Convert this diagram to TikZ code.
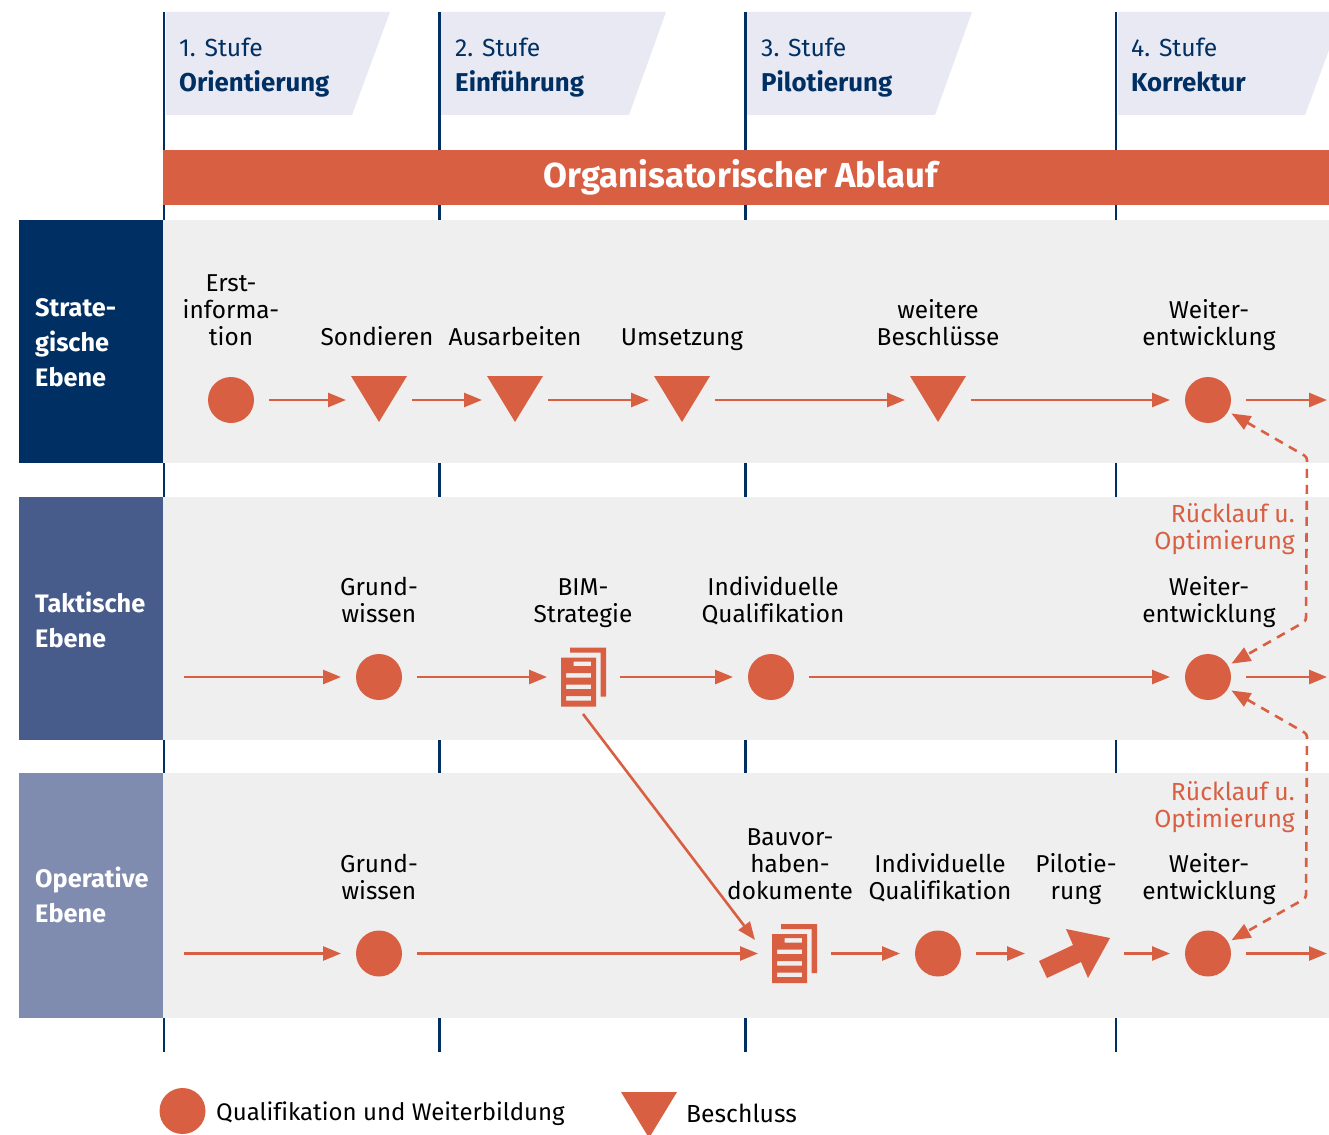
\documentclass[tikz,border=0pt]{standalone}
\usepackage{fontspec}
\setmainfont[Ligatures=CommonOff]{Fira Sans}
\usetikzlibrary{arrows.meta}
\definecolor{navy}{HTML}{003063}
\definecolor{midblue}{HTML}{485C8C}
\definecolor{lightblue}{HTML}{808BB0}
\definecolor{orange}{HTML}{D95F43}
\definecolor{panelgrey}{HTML}{EFEFEF}
\definecolor{headfill}{HTML}{E8E9F2}
\tikzset{
  dot/.style={shape=circle,fill=orange,minimum size=46pt,inner sep=0pt,outer sep=15pt},
  beschluss/.style={shape=rectangle,minimum width=56pt,minimum height=48pt,inner sep=0pt,outer sep=5pt,
    path picture={\fill[orange] (path picture bounding box.north west) -- (path picture bounding box.north east)
      -- ([yshift=2pt]path picture bounding box.south) -- cycle;}},
  docicon/.style={shape=rectangle,minimum width=45pt,minimum height=59pt,inner sep=0pt,outer sep=14pt,
    path picture={\begin{scope}[shift={(path picture bounding box.center)}]
      \fill[orange] (-13.5,-29.5) -- (22.5,-29.5) -- (22.5,19.5) -- (17,19.5) -- (17,-24.5) -- (-13.5,-24.5) -- cycle;
      \fill[orange,even odd rule] (-22.5,-19.5) rectangle (12.5,29.5)
        (-10,-15.5) rectangle (7.5,-11) (-17.5,-4) rectangle (7.5,0.5)
        (-17.5,7.5) rectangle (7.5,12) (-17.5,19) rectangle (7.5,23.5);
    \end{scope}}},
  pilot/.style={shape=rectangle,minimum width=71pt,minimum height=50pt,inner sep=0pt,outer sep=14pt,
    path picture={\begin{scope}[shift={(path picture bounding box.center)}]
      \fill[orange] (-35.5,7.5) -- (-27.5,24.5) -- (6.5,8.5) -- (13.5,24.5) -- (35.5,-15.5) -- (-8.5,-24.5) -- (-1.5,-8.5) -- cycle;
    \end{scope}}},
  flow/.style={draw=orange,line width=2.6pt,-{Triangle[length=18pt,width=14pt]}},
  back/.style={draw=orange,line width=2.6pt,dash pattern=on 9pt off 7pt,rounded corners=3pt,
    {Triangle[length=19pt,width=15pt]}-{Triangle[length=19pt,width=15pt]},shorten <=27pt,shorten >=27pt},
  lbl/.style={anchor=south,align=center,inner sep=0pt,text depth=6pt,font=\fontsize{24.4}{27}\selectfont},
  rueck/.style={anchor=south east,align=right,inner sep=0pt,text depth=6pt,text=orange,font=\fontsize{24.7}{27}\selectfont},
  ebene/.style={anchor=west,align=left,inner sep=0pt,text=white,font=\fontsize{25.3}{35}\selectfont\bfseries},
  stufe/.style={anchor=north west,align=left,inner sep=0pt,text=navy,font=\fontsize{24.7}{35}\selectfont},
  legend/.style={anchor=west,inner sep=0pt,font=\fontsize{24}{27}\selectfont}
}
\newcommand{\stname}[1]{{\fontsize{25.8}{35}\selectfont\bfseries #1}}
\begin{document}
\begin{tikzpicture}[x=1pt,y=-1pt]
  \useasboundingbox (0,0) rectangle (1329,1134);
  % stage lines
  \foreach \lx in {164,439.5,745.5,1116}
    \draw[navy,line width=2.8pt] (\lx,12) -- (\lx,1052);
  % stage heads
  \fill[headfill] (166,12) -- (390,12) -- (352,115) -- (166,115) -- cycle;
  \fill[headfill] (441,12) -- (666,12) -- (629,115) -- (441,115) -- cycle;
  \fill[headfill] (747,12) -- (972,12) -- (935,115) -- (747,115) -- cycle;
  \fill[headfill] (1118,12) -- (1329,12) -- (1329,50) -- (1305,115) -- (1118,115) -- cycle;
  \node[stufe] (st1) at (179,38) {1. Stufe\\\stname{Orientierung}};
  \node[stufe] (st2) at (455,38) {2. Stufe\\\stname{Einführung}};
  \node[stufe] (st3) at (761,38) {3. Stufe\\\stname{Pilotierung}};
  \node[stufe] (st4) at (1131,38) {4. Stufe\\\stname{Korrektur}};
  % bar
  \fill[orange] (163,150) rectangle (1329,205);
  \node[text=white,inner sep=0pt,font=\fontsize{34.7}{36}\selectfont\bfseries] (bar) at (741,177) {Organisatorischer Ablauf};
  % panels
  \fill[panelgrey] (163,220) rectangle (1329,462.5);
  \fill[panelgrey] (163,497) rectangle (1329,740);
  \fill[panelgrey] (163,773) rectangle (1329,1018);
  \fill[navy] (19,220) rectangle (163,462.5);
  \fill[midblue] (19,497) rectangle (163,740);
  \fill[lightblue] (19,773) rectangle (163,1018);
  \node[ebene] (eb1) at (35,342.5) {Strate-\\gische\\Ebene};
  \node[ebene] (eb2) at (35,619.5) {Taktische\\Ebene};
  \node[ebene] (eb3) at (35,895) {Operative\\Ebene};
  % strategic row
  \node[dot] (s1) at (231,400) {};
  \node[beschluss] (s2) at (379,400) {};
  \node[beschluss] (s3) at (515,400) {};
  \node[beschluss] (s4) at (682,400) {};
  \node[beschluss] (s5) at (938,400) {};
  \node[dot] (s6) at (1208,400) {};
  \coordinate (s7) at (1327,400);
  \node[lbl] (ls1) at (231,352) {Erst-\\informa-\\tion};
  \node[lbl] (ls2) at (377,352) {Sondieren};
  \node[lbl] (ls3) at (515,352) {Ausarbeiten};
  \node[lbl] (ls4) at (682,352) {Umsetzung};
  \node[lbl] (ls5) at (938,352) {weitere\\Beschlüsse};
  \node[lbl] (ls6) at (1209,352) {Weiter-\\entwicklung};
  \path [flow] (s1) -- (s2);
  \path [flow] (s2) -- (s3);
  \path [flow] (s3) -- (s4);
  \path [flow] (s4) -- (s5);
  \path [flow] (s5) -- (s6);
  \path [flow] (s6) -- (s7);
  % tactical row
  \coordinate (t0) at (184,677);
  \node[dot] (t1) at (379,677) {};
  \node[docicon] (t2) at (583.5,677) {};
  \node[dot] (t3) at (771,677) {};
  \node[dot] (t4) at (1208,677) {};
  \coordinate (t5) at (1327,677);
  \node[lbl] (lt1) at (379,629) {Grund-\\wissen};
  \node[lbl] (lt2) at (583,629) {BIM-\\Strategie};
  \node[lbl] (lt3) at (773,629) {Individuelle\\Qualifikation};
  \node[lbl] (lt4) at (1209,629) {Weiter-\\entwicklung};
  \path [flow] (t0) -- (t1);
  \path [flow] (t1) -- (t2);
  \path [flow] (t2) -- (t3);
  \path [flow] (t3) -- (t4);
  \path [flow] (t4) -- (t5);
  % operative row
  \coordinate (o0) at (184,953.5);
  \node[dot] (o1) at (379,953.5) {};
  \node[docicon] (o2) at (794.5,953.5) {};
  \node[dot] (o3) at (938,953.5) {};
  \node[pilot] (o4) at (1074.5,953.5) {};
  \node[dot] (o5) at (1208,953.5) {};
  \coordinate (o6) at (1327,953.5);
  \node[lbl] (lo1) at (379,906) {Grund-\\wissen};
  \node[lbl] (lo2) at (790,906) {Bauvor-\\haben-\\dokumente};
  \node[lbl] (lo3) at (940,906) {Individuelle\\Qualifikation};
  \node[lbl] (lo4) at (1076,906) {Pilotie-\\rung};
  \node[lbl] (lo5) at (1209,906) {Weiter-\\entwicklung};
  \path [flow] (o0) -- (o1);
  \path [flow] (o1) -- (o2);
  \path [flow] (o2) -- (o3);
  \path [flow] (o3) -- (o4);
  \path [flow] (o4) -- (o5);
  \path [flow] (o5) -- (o6);
  % cross link
  \coordinate (bimOut) at (583,714);
  \coordinate (dokIn) at (755,940);
  \path [flow] (bimOut) -- (dokIn);
  % feedback
  \coordinate (b1) at (1307,457);
  \coordinate (b2) at (1306,621);
  \coordinate (b3) at (1307,734);
  \coordinate (b4) at (1306,898);
  \path [back] (s6.center) -- (b1) -- (b2) -- (t4.center);
  \path [back] (t4.center) -- (b3) -- (b4) -- (o5.center);
  \node[rueck] (r1) at (1295,555.5) {Rücklauf u.\\Optimierung};
  \node[rueck] (r2) at (1295,833.5) {Rücklauf u.\\Optimierung};
  % legend
  \node[dot,outer sep=0pt] (k1) at (182.5,1111) {};
  \node[legend] (k2) at (216,1114) {Qualifikation und Weiterbildung};
  \node[beschluss,outer sep=0pt] (k3) at (649,1116) {};
  \node[legend,font=\fontsize{24.7}{27}\selectfont] (k4) at (686,1113.5) {Beschluss};
\end{tikzpicture}
\end{document}
